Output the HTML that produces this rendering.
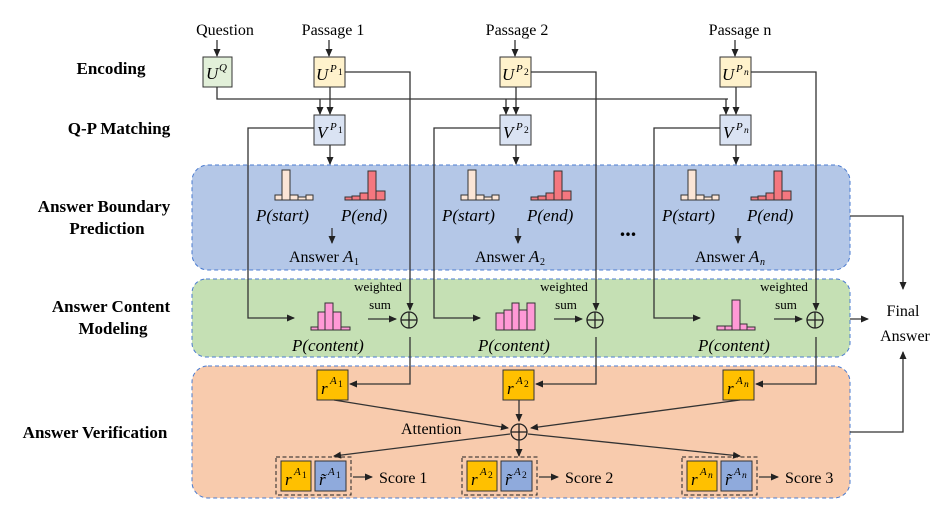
<!DOCTYPE html>
<html><head><meta charset="utf-8"><style>
html,body{margin:0;padding:0;background:#fff;}
svg{display:block;font-family:"Liberation Serif",serif;}
.lbl{font-weight:bold;font-size:17px;text-anchor:middle;}
.t{font-size:16px;}
.m{font-size:17px;font-style:italic;}
.s{font-size:9.5px;}
.ln{stroke:#333;stroke-width:1.3;fill:none;}
</style></head><body>
<svg width="946" height="517" viewBox="0 0 946 517" xmlns="http://www.w3.org/2000/svg">
<defs>
<marker id="a" markerWidth="8" markerHeight="8" refX="7" refY="4" orient="auto" markerUnits="userSpaceOnUse"><path d="M0,0.5 L8,4 L0,7.5 z" fill="#222"/></marker>
</defs>
<rect x="192" y="165" width="658" height="105" rx="16" fill="#b4c7e7" stroke="#4a7bd0" stroke-dasharray="4,3"/>
<rect x="192" y="279" width="658" height="78" rx="14" fill="#c5e0b4" stroke="#4a7bd0" stroke-dasharray="4,3"/>
<rect x="192" y="366" width="658" height="132" rx="16" fill="#f8cbad" stroke="#4a7bd0" stroke-dasharray="4,3"/>
<text class="lbl" x="111" y="74">Encoding</text>
<text class="lbl" x="119" y="134">Q-P Matching</text>
<text class="lbl" x="104" y="212">Answer Boundary</text>
<text class="lbl" x="107" y="234">Prediction</text>
<text class="lbl" x="111" y="312">Answer Content</text>
<text class="lbl" x="113" y="334">Modeling</text>
<text class="lbl" x="95" y="438">Answer Verification</text>
<text class="t" x="225" y="35" text-anchor="middle">Question</text>
<line class="ln" x1="217" y1="40" x2="217" y2="56" marker-end="url(#a)"/>
<rect x="203" y="57" width="29" height="30" fill="#e2f0d9" stroke="#333"/>
<text class="m" x="206" y="79">U</text><text x="219" y="71" style="font-size:11px;font-style:italic">Q</text>
<polyline class="ln" points="217,87 217,99 728,99"/>
<line class="ln" x1="320" y1="99" x2="320" y2="114" marker-end="url(#a)"/>
<line class="ln" x1="506" y1="99" x2="506" y2="114" marker-end="url(#a)"/>
<line class="ln" x1="726" y1="99" x2="726" y2="114" marker-end="url(#a)"/>

<g id="c1">
<text class="t" x="333" y="35" text-anchor="middle">Passage 1</text>
<line class="ln" x1="329" y1="40" x2="329" y2="56" marker-end="url(#a)"/>
<rect x="314" y="57" width="31" height="30" fill="#fff2cc" stroke="#333"/>
<line class="ln" x1="330" y1="87" x2="330" y2="114" marker-end="url(#a)"/>
<rect x="314" y="115" width="31" height="30" fill="#dae3f3" stroke="#333"/>
<line class="ln" x1="330" y1="145" x2="330" y2="164" marker-end="url(#a)"/>
<g fill="#fbe5d6" stroke="#333" stroke-width="1">
<rect x="275" y="195" width="7" height="5"/><rect x="282" y="170" width="8" height="30"/><rect x="290" y="195" width="8" height="5"/><rect x="298" y="197" width="8" height="3"/><rect x="306" y="195" width="7" height="5"/>
</g>
<g fill="#f4777f" stroke="#333" stroke-width="1">
<rect x="345" y="197" width="7" height="3"/><rect x="352" y="196" width="8" height="4"/><rect x="360" y="193" width="8" height="7"/><rect x="368" y="171" width="8" height="29"/><rect x="376" y="191" width="9" height="9"/>
</g>
<text class="m" x="256" y="221">P(start)</text>
<text class="m" x="341" y="221">P(end)</text>
<line class="ln" x1="332" y1="228" x2="332" y2="243" marker-end="url(#a)"/>
<text class="t" x="289" y="262">Answer</text>
<text x="378" y="291" text-anchor="middle" style="font-size:13px">weighted</text>
<text x="380" y="309" text-anchor="middle" style="font-size:13px">sum</text>
<line class="ln" x1="368" y1="319" x2="396" y2="319" marker-end="url(#a)"/>
<circle cx="409" cy="320" r="8" fill="none" stroke="#222" stroke-width="1.3"/>
<line x1="401" y1="320" x2="417" y2="320" stroke="#222" stroke-width="1.3"/><line x1="409" y1="312" x2="409" y2="328" stroke="#222" stroke-width="1.3"/>
<polyline class="ln" points="345,72 410,72 410,310" marker-end="url(#a)"/>
<polyline class="ln" points="314,128 248,128 248,318 294,318" marker-end="url(#a)"/>
<text class="m" x="292" y="351">P(content)</text>
<polyline class="ln" points="410,337 410,384 350,384" marker-end="url(#a)"/>
<rect x="317" y="370" width="31" height="30" fill="#ffc000" stroke="#333"/>
<rect x="276" y="457" width="75" height="38" fill="none" stroke="#222" stroke-dasharray="4,2.5"/>
<rect x="281" y="461" width="30" height="30" fill="#ffc000" stroke="#333"/>
<rect x="315" y="461" width="31" height="30" fill="#8faadc" stroke="#333"/>
<line class="ln" x1="353" y1="477" x2="372" y2="477" marker-end="url(#a)"/>
</g>
<text class="m" x="316" y="80">U</text><text x="330" y="72" style="font-size:11px;font-style:italic">P</text><text class="s" x="338" y="75">1</text>
<text class="m" x="317" y="138">V</text><text x="330" y="130" style="font-size:11px;font-style:italic">P</text><text class="s" x="338" y="133">1</text>
<text class="m" x="343" y="262">A</text><text x="354" y="265" style="font-size:10px">1</text>
<text class="m" x="321" y="394">r</text><text x="330" y="384" style="font-size:11px;font-style:italic">A</text><text class="s" x="338" y="387">1</text>
<text class="m" x="285" y="485">r</text><text x="294" y="475" style="font-size:11px;font-style:italic">A</text><text class="s" x="302" y="478">1</text>
<text class="m" x="319" y="485">r̃</text><text x="328" y="475" style="font-size:11px;font-style:italic">A</text><text class="s" x="336" y="478">1</text>
<text class="t" x="379" y="483">Score 1</text>
<g fill="#ff99d6" stroke="#333" stroke-width="1">
<rect x="311" y="327" width="7" height="3"/><rect x="318" y="312" width="7" height="18"/><rect x="325" y="303" width="8" height="27"/><rect x="333" y="312" width="8" height="18"/><rect x="341" y="327" width="9" height="3"/>
</g>

<use href="#c1" transform="translate(186,0)"/>
<use href="#c1" transform="translate(406,0)"/>
<rect x="470" y="18" width="80" height="20" fill="#fff"/>
<rect x="690" y="18" width="80" height="20" fill="#fff"/>
<text class="t" x="517" y="35" text-anchor="middle">Passage 2</text>
<text class="t" x="740" y="35" text-anchor="middle">Passage n</text>
<text class="m" x="502" y="80">U</text><text x="516" y="72" style="font-size:11px;font-style:italic">P</text><text class="s" x="524" y="75">2</text>
<text class="m" x="503" y="138">V</text><text x="516" y="130" style="font-size:11px;font-style:italic">P</text><text class="s" x="524" y="133">2</text>
<text class="m" x="529" y="262">A</text><text x="540" y="265" style="font-size:10px">2</text>
<text class="m" x="507" y="394">r</text><text x="516" y="384" style="font-size:11px;font-style:italic">A</text><text class="s" x="524" y="387">2</text>
<text class="m" x="471" y="485">r</text><text x="480" y="475" style="font-size:11px;font-style:italic">A</text><text class="s" x="488" y="478">2</text>
<text class="m" x="505" y="485">r̃</text><text x="514" y="475" style="font-size:11px;font-style:italic">A</text><text class="s" x="522" y="478">2</text>
<text class="t" x="565" y="483">Score 2</text>
<g fill="#ff99d6" stroke="#333" stroke-width="1">
<rect x="496" y="313" width="8" height="17"/><rect x="504" y="310" width="8" height="20"/><rect x="512" y="303" width="7" height="27"/><rect x="519" y="310" width="8" height="20"/><rect x="527" y="303" width="8" height="27"/>
</g>
<text class="m" x="722" y="80">U</text><text x="736" y="72" style="font-size:11px;font-style:italic">P</text><text class="s" x="744" y="75" style="font-style:italic">n</text>
<text class="m" x="723" y="138">V</text><text x="736" y="130" style="font-size:11px;font-style:italic">P</text><text class="s" x="744" y="133" style="font-style:italic">n</text>
<text class="m" x="749" y="262">A</text><text x="760" y="265" style="font-size:10px;font-style:italic">n</text>
<text class="m" x="727" y="394">r</text><text x="736" y="384" style="font-size:11px;font-style:italic">A</text><text class="s" x="744" y="387" style="font-style:italic">n</text>
<text class="m" x="691" y="485">r</text><text x="700" y="475" style="font-size:11px;font-style:italic">A</text><text class="s" x="708" y="478" style="font-style:italic">n</text>
<text class="m" x="725" y="485">r̃</text><text x="734" y="475" style="font-size:11px;font-style:italic">A</text><text class="s" x="742" y="478" style="font-style:italic">n</text>
<text class="t" x="785" y="483">Score 3</text>
<g fill="#ff99d6" stroke="#333" stroke-width="1">
<rect x="717" y="326" width="8" height="4"/><rect x="725" y="326" width="7" height="4"/><rect x="732" y="300" width="8" height="30"/><rect x="740" y="324" width="7" height="6"/><rect x="747" y="327" width="8" height="3"/>
</g>
<text x="628" y="236" text-anchor="middle" style="font-size:22px;font-weight:bold">...</text>

<line class="ln" x1="334" y1="400" x2="508" y2="428" marker-end="url(#a)"/>
<line class="ln" x1="519" y1="400" x2="519" y2="421" marker-end="url(#a)"/>
<line class="ln" x1="740" y1="400" x2="531" y2="428" marker-end="url(#a)"/>
<circle cx="519" cy="432" r="8" fill="none" stroke="#222" stroke-width="1.3"/>
<line x1="511" y1="432" x2="527" y2="432" stroke="#222" stroke-width="1.3"/><line x1="519" y1="424" x2="519" y2="440" stroke="#222" stroke-width="1.3"/>
<text class="t" x="401" y="434">Attention</text>
<line class="ln" x1="510" y1="434" x2="334" y2="456" marker-end="url(#a)"/>
<line class="ln" x1="519" y1="440" x2="519" y2="456" marker-end="url(#a)"/>
<line class="ln" x1="528" y1="434" x2="740" y2="456" marker-end="url(#a)"/>
<polyline class="ln" points="850,216 903,216 903,289" marker-end="url(#a)"/>
<line class="ln" x1="850" y1="319" x2="868" y2="319" marker-end="url(#a)"/>
<polyline class="ln" points="850,432 903,432 903,352" marker-end="url(#a)"/>
<text class="t" x="903" y="316" text-anchor="middle">Final</text>
<text class="t" x="905" y="341" text-anchor="middle">Answer</text>
</svg>
</body></html>
